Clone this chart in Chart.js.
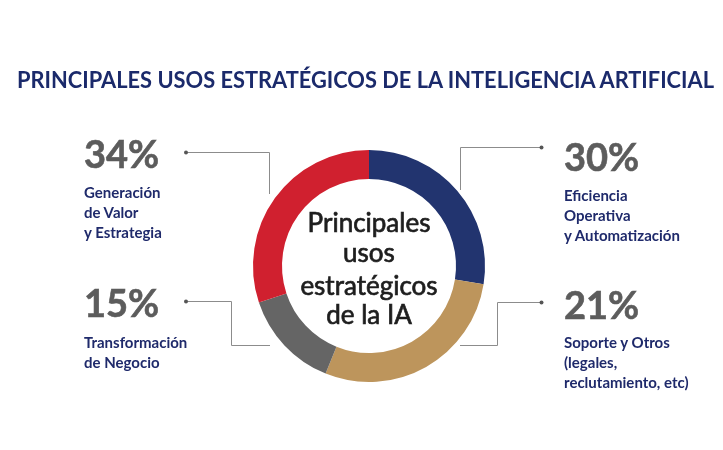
<!DOCTYPE html>
<html>
<head>
<meta charset="utf-8">
<script src="https://cdn.jsdelivr.net/npm/chart.js@4.4.1/dist/chart.umd.min.js"></script>
<style>
  html, body { margin:0; padding:0; background:#fff; }
  #wrap { position:relative; width:723px; height:450px; overflow:hidden; font-family: Lato, "Open Sans", sans-serif; }
  #c { position:absolute; left:0; top:0; }
  .t { position:absolute; white-space:nowrap; transform-origin: 0 0; }
</style>
</head>
<body>
<div id="wrap">
  <canvas id="c" width="723" height="450"></canvas>
</div>
<script>
// ---- data ----
const titleText = 'PRINCIPALES USOS ESTRATÉGICOS DE LA INTELIGENCIA ARTIFICIAL';
const centerLines = ['Principales', 'usos', 'estratégicos', 'de la IA'];
const categories = ['Eficiencia Operativa y Automatización', 'Soporte y Otros (legales, reclutamiento, etc)', 'Transformación de Negocio', 'Generación de Valor y Estrategia'];
const percentLabels = ['30%', '21%', '15%', '34%'];
const categoryLines = [
  ['Eficiencia', 'Operativa', 'y Automatización'],
  ['Soporte y Otros', '(legales,', 'reclutamiento, etc)'],
  ['Transformación', 'de Negocio'],
  ['Generación', 'de Valor', 'y Estrategia']
];
// slice sizes as drawn in the picture (share of the ring)
const sliceShares = [27.5, 28.6, 13.8, 30.1];
const sliceColors = ['#22346F', '#BD955C', '#656565', '#D0202F'];

// ---- text helpers (Lato metrics: ascent .987) ----
const wrap = document.getElementById('wrap');
function place(text, x, baseline, size, weight, color, opts) {
  opts = opts || {};
  const d = document.createElement('div');
  d.className = 't';
  d.textContent = text;
  d.style.fontSize = size + 'px';
  d.style.fontWeight = weight;
  d.style.color = color;
  d.style.lineHeight = (size * 1.2) + 'px';
  d.style.top = (baseline - 0.987 * size) + 'px';
  if (opts.stroke) d.style.webkitTextStroke = opts.stroke + 'px ' + color;
  wrap.appendChild(d);
  const w = d.getBoundingClientRect().width;
  let sx = 1;
  if (opts.width) { sx = opts.width / w; d.style.transform = 'scaleX(' + sx + ')'; }
  const ew = w * sx;
  if (opts.center) d.style.left = (x - ew / 2) + 'px'; else d.style.left = x + 'px';
  return d;
}

// title
place(titleText, 16.5, 88.3, 22, 700, '#1B2A6B', { width: 697 });

// center text
const cb = [233, 263, 296, 325];
centerLines.forEach((l, i) => place(l, 369, cb[i], 26, 400, '#1E1E1E', { center: true, stroke: 0.7 }));

// side labels
const pctPos = [[564, 172], [564, 320], [84, 318], [84, 169]];
const linePos = [[564, [201, 221, 241]], [564, [348, 368, 388]], [84, [348, 368]], [84, [198, 218, 238]]];
percentLabels.forEach((p, i) => place(p, pctPos[i][0], pctPos[i][1], 38, 700, '#5C5C5C', { stroke: 0.6 }));
categoryLines.forEach((ls, i) => ls.forEach((l, j) => place(l, linePos[i][0], linePos[i][1][j], 15, 700, '#1F2A6B')));

// connector lines
const connectors = [
  [[541.5, 147.5], [460.5, 147.5], [460.5, 190]],
  [[541.5, 302.5], [497.5, 302.5], [497.5, 345.5], [460, 345.5]],
  [[186, 301.5], [231.5, 301.5], [231.5, 345.5], [270, 345.5]],
  [[186, 152.5], [269.5, 152.5], [269.5, 194]]
];
const connectorPlugin = {
  id: 'connectors',
  afterDraw(chart) {
    const ctx = chart.ctx;
    ctx.save();
    ctx.strokeStyle = '#8C8C8C';
    ctx.lineWidth = 1;
    connectors.forEach(pts => {
      ctx.beginPath();
      pts.forEach((p, k) => k ? ctx.lineTo(p[0], p[1]) : ctx.moveTo(p[0], p[1]));
      ctx.stroke();
      ctx.fillStyle = '#555';
      ctx.beginPath();
      ctx.arc(pts[0][0], pts[0][1], 2, 0, Math.PI * 2);
      ctx.fill();
    });
    ctx.restore();
  }
};

new Chart(document.getElementById('c'), {
  type: 'doughnut',
  data: {
    labels: categories,
    datasets: [{
      data: sliceShares,
      backgroundColor: sliceColors,
      borderWidth: 0
    }]
  },
  options: {
    responsive: false,
    animation: false,
    cutout: '75%',
    rotation: 0,
    layout: { padding: { left: 253, right: 238, top: 150, bottom: 68 } },
    plugins: { legend: { display: false }, tooltip: { enabled: false } }
  },
  plugins: [connectorPlugin]
});
</script>
</body>
</html>
